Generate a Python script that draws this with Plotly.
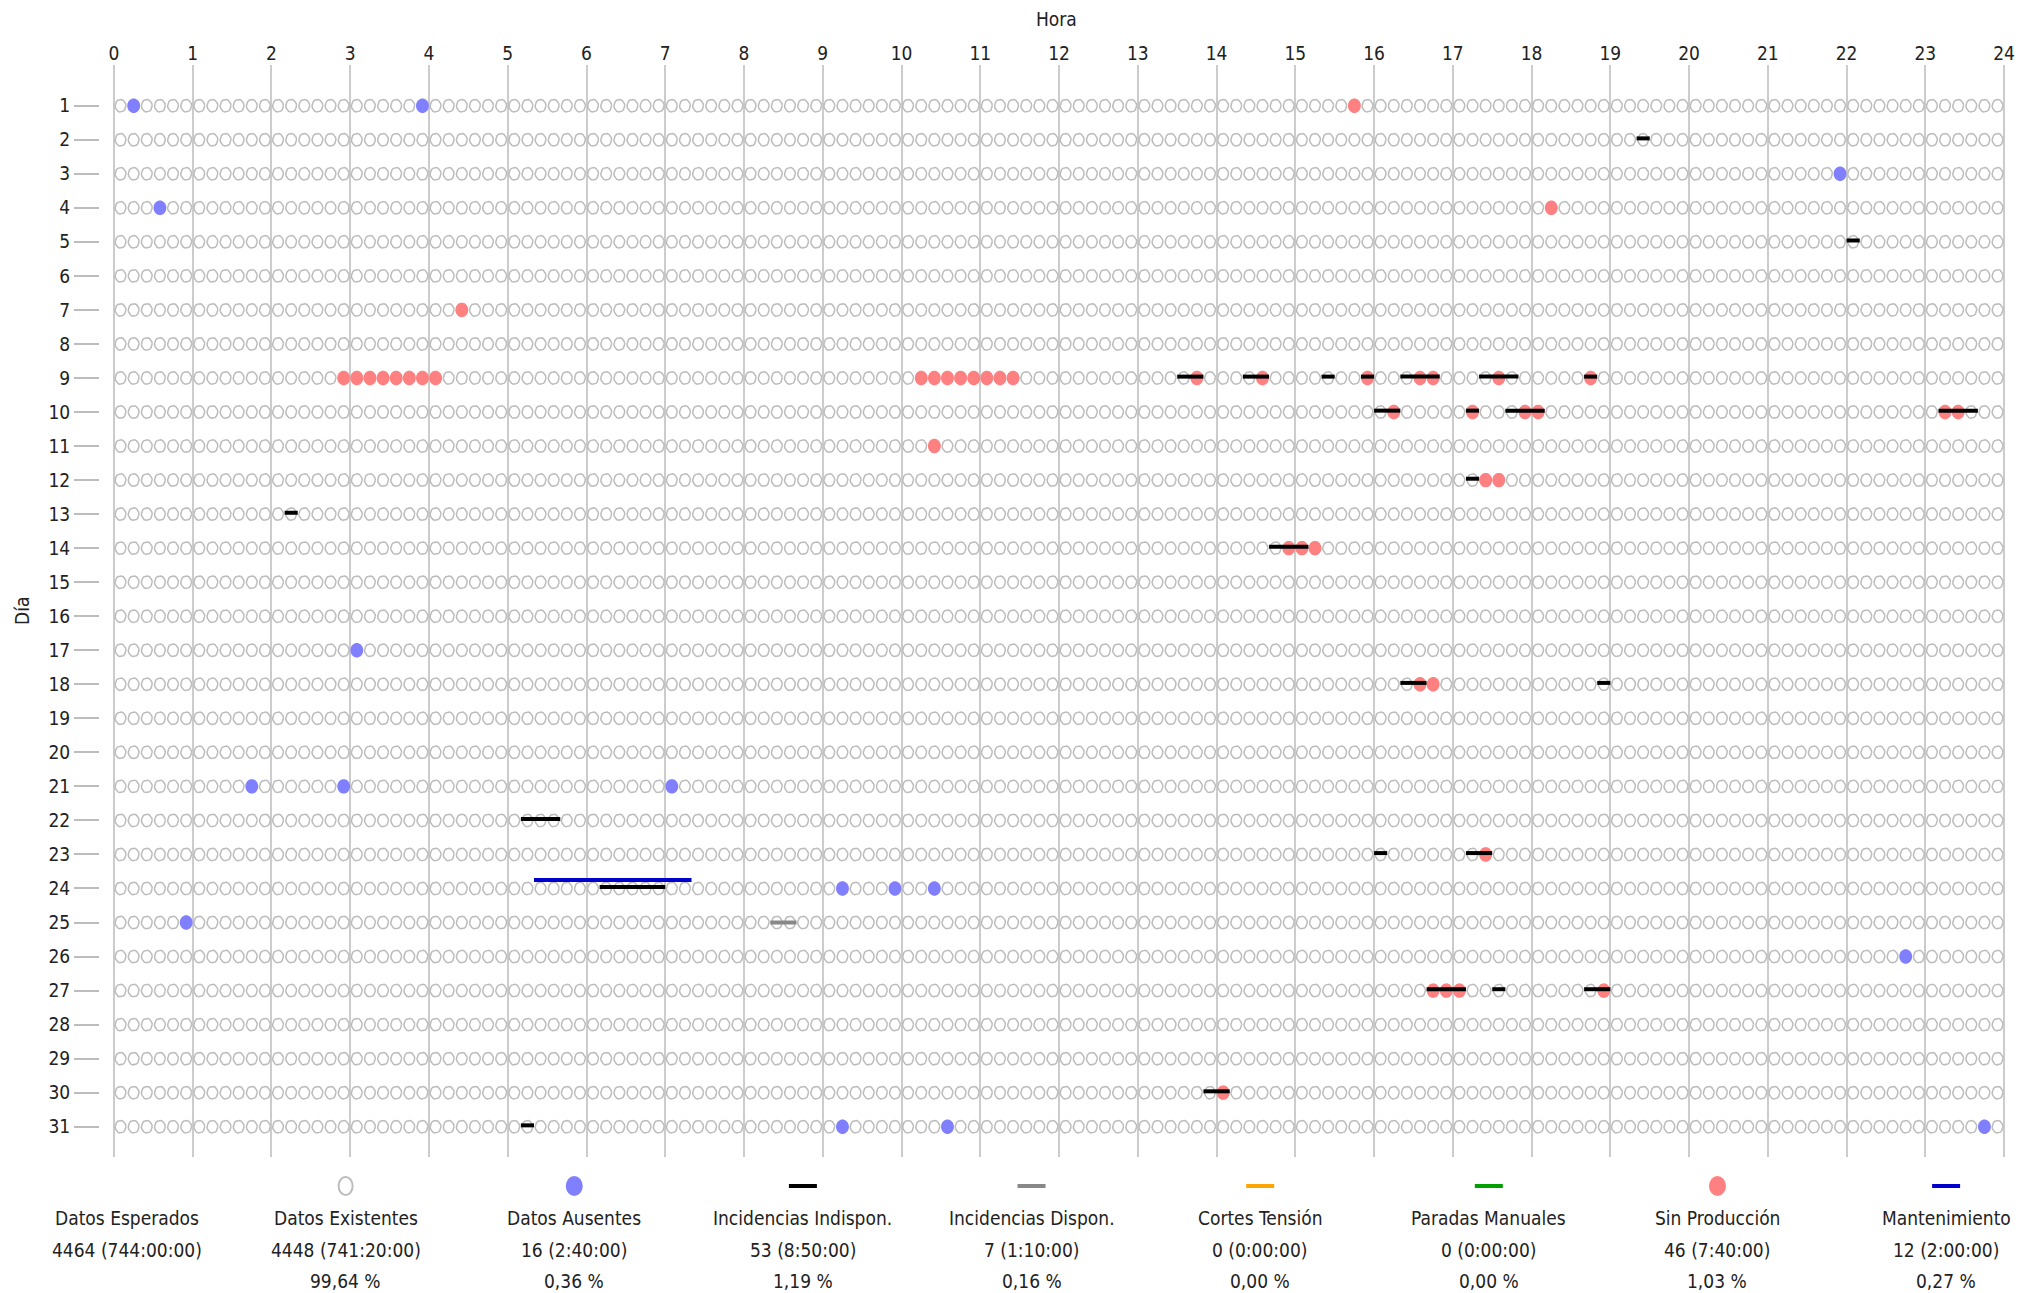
import numpy as np
import plotly.graph_objects as go

# ---------------------------------------------------------------
# Datos: un mes de registros cada 10 minutos (día x hora)
# ---------------------------------------------------------------
HORAS = list(range(0, 25))
DIAS = list(range(1, 32))
PASO_MIN = 10

# Datos Ausentes (muestras sin registro)
ausentes_dia = [1, 1, 3, 4, 17, 21, 21, 21, 24, 24, 24, 25, 26, 31, 31, 31]
ausentes_ini = ["0:10", "3:50", "21:50", "0:30", "3:00", "1:40", "2:50", "7:00",
                "9:10", "9:50", "10:20", "0:50", "22:40", "9:10", "10:30", "23:40"]
ausentes_fin = ["0:20", "4:00", "22:00", "0:40", "3:10", "1:50", "3:00", "7:10",
                "9:20", "10:00", "10:30", "1:00", "22:50", "9:20", "10:40", "23:50"]

# Sin Producción
sinprod_dia = [1, 4, 7, 9, 9, 9, 9, 9, 9, 9, 9, 10, 10, 10, 10, 11, 12, 14, 18, 23, 27, 27, 30]
sinprod_ini = ["15:40", "18:10", "4:20", "2:50", "10:10", "13:40", "14:30", "15:50", "16:30",
               "17:30", "18:40", "16:10", "17:10", "17:50", "23:10", "10:20", "17:20", "14:50",
               "16:30", "17:20", "16:40", "18:50", "14:00"]
sinprod_fin = ["15:50", "18:20", "4:30", "4:10", "11:30", "13:50", "14:40", "16:00", "16:50",
               "17:40", "18:50", "16:20", "17:20", "18:10", "23:30", "10:30", "17:40", "15:20",
               "16:50", "17:30", "17:10", "19:00", "14:10"]

# Incidencias Indisponibles
indisp_dia = [2, 5, 9, 9, 9, 9, 9, 9, 9, 10, 10, 10, 10, 12, 13, 14, 18, 18, 22, 23, 23, 24,
              27, 27, 27, 30, 31]
indisp_ini = ["19:20", "22:00", "13:30", "14:20", "15:20", "15:50", "16:20", "17:20", "18:40",
              "16:00", "17:10", "17:40", "23:10", "17:10", "2:10", "14:40", "16:20", "18:50",
              "5:10", "16:00", "17:10", "6:10", "16:40", "17:30", "18:40", "13:50", "5:10"]
indisp_fin = ["19:30", "22:10", "13:50", "14:40", "15:30", "16:00", "16:50", "17:50", "18:50",
              "16:20", "17:20", "18:10", "23:40", "17:20", "2:20", "15:10", "16:40", "19:00",
              "5:40", "16:10", "17:30", "7:00", "17:10", "17:40", "19:00", "14:10", "5:20"]

# Incidencias Disponibles
disp_dia = [25]
disp_ini = ["8:20"]
disp_fin = ["8:40"]

# Mantenimiento
mant_dia = [24]
mant_ini = ["5:20"]
mant_fin = ["7:20"]

# Resumen del periodo (pie del gráfico)
res_nombres = ["Datos Esperados", "Datos Existentes", "Datos Ausentes", "Incidencias Indispon.",
               "Incidencias Dispon.", "Cortes Tensión", "Paradas Manuales", "Sin Producción",
               "Mantenimiento"]
res_totales = ["4464 (744:00:00)", "4448 (741:20:00)", "16 (2:40:00)", "53 (8:50:00)",
               "7 (1:10:00)", "0 (0:00:00)", "0 (0:00:00)", "46 (7:40:00)", "12 (2:00:00)"]
res_porcentajes = ["", "99,64 %", "0,36 %", "1,19 %", "0,16 %", "0,00 %", "0,00 %",
                   "1,03 %", "0,27 %"]

# ---------------------------------------------------------------
# Estilo
# ---------------------------------------------------------------
FUENTE = "DejaVu Sans Condensed, DejaVu Sans, sans-serif"
C_TEXTO = "#222222"
C_REJILLA = "#cccccc"
C_EXISTE = "#bcbcbc"
C_AUSENTE = "#8080ff"
C_SINPROD = "#ff8080"
C_INDISP = "#000000"
C_DISP = "#888888"
C_CORTES = "#ffa500"
C_PARADAS = "#00a000"
C_MANT = "#0000cc"

W, H = 2021, 1293
M_L, M_R, M_T, M_B = 100, 6, 65, 136
X_RANGO = [-0.1775, 24.1]
Y_RANGO = [31.89, -0.196]
PX_H = (W - M_L - M_R) / (X_RANGO[1] - X_RANGO[0])
PX_D = (H - M_T - M_B) / (Y_RANGO[0] - Y_RANGO[1])


def a_horas(t):
    h, m = t.split(":")
    return int(h) + int(m) / 60.0


def muestras(dias, ini, fin):
    """Centros (hora, día) de cada muestra de 10 min dentro de los intervalos."""
    xs, ys = [], []
    for d, a, b in zip(dias, ini, fin):
        t = a_horas(a)
        tb = a_horas(b)
        while t < tb - 1e-9:
            xs.append(round(t + PASO_MIN / 120.0, 4))
            ys.append(d)
            t += PASO_MIN / 60.0
    return xs, ys


def elipses(cx, cy, rx_px, ry_px, n=18):
    """Contornos de elipses (en unidades de datos) separados por huecos."""
    t = np.linspace(0, 2 * np.pi, n + 1)
    rx = rx_px / PX_H
    ry = ry_px / PX_D
    cx = np.asarray(cx, float)[:, None]
    cy = np.asarray(cy, float)[:, None]
    X = np.round(cx + rx * np.cos(t)[None, :], 4)
    Y = np.round(cy + ry * np.sin(t)[None, :], 4)
    X = np.hstack([X, np.full((X.shape[0], 1), np.nan)]).ravel()
    Y = np.hstack([Y, np.full((Y.shape[0], 1), np.nan)]).ravel()
    X = [None if np.isnan(v) else float(v) for v in X]
    Y = [None if np.isnan(v) else float(v) for v in Y]
    return X, Y


def segmentos(dias, ini, fin, dy=0.0):
    xs, ys = [], []
    for d, a, b in zip(dias, ini, fin):
        xs += [a_horas(a), a_horas(b), None]
        ys += [d + dy, d + dy, None]
    return xs, ys


# Malla completa de muestras esperadas, sin las ausentes
aus_x, aus_y = muestras(ausentes_dia, ausentes_ini, ausentes_fin)
faltan = set(zip(aus_x, aus_y))
slots = [round((i + 0.5) * PASO_MIN / 60.0, 4) for i in range(24 * 60 // PASO_MIN)]
ex_x, ex_y = [], []
for d in DIAS:
    for s in slots:
        if (s, d) not in faltan:
            ex_x.append(s)
            ex_y.append(d)

sp_x, sp_y = muestras(sinprod_dia, sinprod_ini, sinprod_fin)

fig = go.Figure()

# Datos existentes: elipses huecas
ex_px, ex_py = elipses(ex_x, ex_y, 5.4, 6.3)
fig.add_trace(go.Scatter(x=ex_px, y=ex_py, mode="lines", line=dict(color=C_EXISTE, width=1.5),
                         hoverinfo="skip", showlegend=False))

# Datos ausentes y sin producción: elipses rellenas
for (xx, yy, col) in [(aus_x, aus_y, C_AUSENTE), (sp_x, sp_y, C_SINPROD)]:
    px_, py_ = elipses(xx, yy, 6.5, 7.3)
    fig.add_trace(go.Scatter(x=px_, y=py_, mode="lines", fill="toself", fillcolor=col,
                             line=dict(width=0, color=col), hoverinfo="skip", showlegend=False))

# Incidencias y mantenimiento: segmentos horizontales
for (dd, ii, ff, col, dy) in [(disp_dia, disp_ini, disp_fin, C_DISP, 0.0),
                              (indisp_dia, indisp_ini, indisp_fin, C_INDISP, -0.04),
                              (mant_dia, mant_ini, mant_fin, C_MANT, -0.25)]:
    sx, sy = segmentos(dd, ii, ff, dy)
    fig.add_trace(go.Scatter(x=sx, y=sy, mode="lines", line=dict(color=col, width=4),
                             hoverinfo="skip", showlegend=False))

# ---------------------------------------------------------------
# Resumen inferior: símbolo + tres líneas de texto por columna
# ---------------------------------------------------------------
col_px = [127, 346, 575, 804, 1033, 1262, 1491, 1720, 1949]
simbolos = [None, ("hueco", C_EXISTE), ("punto", C_AUSENTE), ("raya", C_INDISP),
            ("raya", C_DISP), ("raya", C_CORTES), ("raya", C_PARADAS),
            ("punto", C_SINPROD), ("raya", C_MANT)]
plot_w = W - M_L - M_R

shapes = []
annotations = []
for px, sim, nom, tot, pct in zip(col_px, simbolos, res_nombres, res_totales, res_porcentajes):
    xp = (px - M_L) / plot_w
    if sim is not None:
        tipo, col = sim
        base = dict(xref="paper", yref="paper", xsizemode="pixel", ysizemode="pixel",
                    xanchor=xp, yanchor=0)
        if tipo == "hueco":
            shapes.append(dict(type="circle", x0=-7, x1=7, y0=-38, y1=-20,
                               line=dict(color=col, width=2), fillcolor="rgba(0,0,0,0)", **base))
        elif tipo == "punto":
            shapes.append(dict(type="circle", x0=-8.5, x1=8.5, y0=-39, y1=-19,
                               line=dict(width=0), fillcolor=col, **base))
        else:
            shapes.append(dict(type="rect", x0=-14, x1=14, y0=-31, y1=-27,
                               line=dict(width=0), fillcolor=col, **base))
    for txt, off in [(nom, -61), (tot, -93), (pct, -124)]:
        if txt:
            annotations.append(dict(text=txt, xref="paper", yref="paper", x=xp, y=0,
                                    xanchor="center", yanchor="middle", yshift=off,
                                    showarrow=False,
                                    font=dict(family=FUENTE, size=19, color=C_TEXTO)))

# Títulos de ejes
annotations.append(dict(text="Hora", xref="paper", yref="paper", x=0.5, y=1, yshift=46,
                        xanchor="center", yanchor="middle", showarrow=False,
                        font=dict(family=FUENTE, size=19, color=C_TEXTO)))
annotations.append(dict(text="Día", xref="paper", yref="paper", x=0, y=0.5, xshift=-78,
                        xanchor="center", yanchor="middle", textangle=-90, showarrow=False,
                        font=dict(family=FUENTE, size=19, color=C_TEXTO)))

fig.update_layout(
    width=W, height=H,
    margin=dict(l=M_L, r=M_R, t=M_T, b=M_B, pad=0),
    paper_bgcolor="white", plot_bgcolor="white",
    font=dict(family=FUENTE, size=19, color=C_TEXTO),
    shapes=shapes, annotations=annotations,
    xaxis=dict(range=X_RANGO, side="top", tickmode="array", tickvals=HORAS,
               ticktext=[str(h) for h in HORAS], ticks="", showgrid=True,
               gridcolor=C_REJILLA, gridwidth=2, zeroline=False, showline=False,
               tickfont=dict(family=FUENTE, size=19, color=C_TEXTO), fixedrange=True),
    yaxis=dict(range=Y_RANGO, tickmode="array", tickvals=DIAS,
               ticktext=[str(d) for d in DIAS], ticks="outside", ticklen=25,
               tickcolor="#bdbdbd", tickwidth=1.5, showgrid=False, zeroline=False,
               showline=False, tickfont=dict(family=FUENTE, size=19, color=C_TEXTO),
               fixedrange=True),
)

fig.write_html("out.html")
